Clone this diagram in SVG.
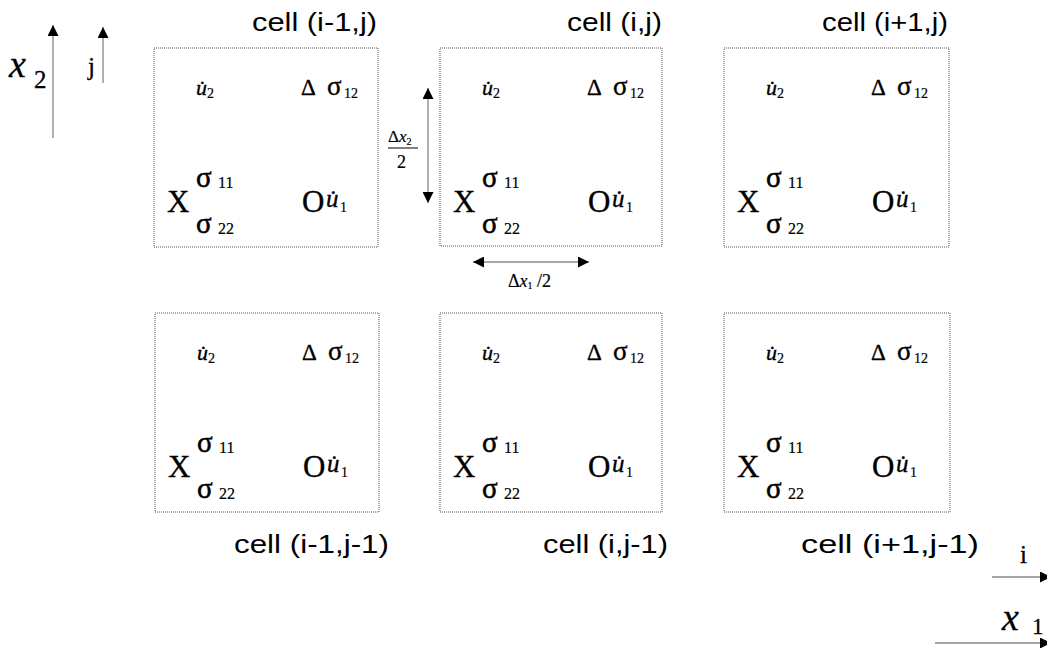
<svg xmlns="http://www.w3.org/2000/svg" width="1047" height="648" viewBox="0 0 1047 648">
<style>
.box{fill:none;stroke:#555;stroke-width:1;stroke-dasharray:1 1}
.lbl{font-family:"Liberation Sans",Arial,sans-serif;font-size:26px;fill:#000}
.t{font-family:"Liberation Serif","Times New Roman",serif;fill:#000;stroke:#000;stroke-width:0.35}
.mi{font-style:italic;font-size:22px}
.mu{font-style:italic;font-size:25px}
.sub{font-size:14px;stroke-width:0.2}
.sub2{font-size:16px;stroke-width:0.2}
.dl{font-size:23px}
.s1{font-size:27px}
.sg{font-size:29px;stroke-width:0.5}
.big{font-size:31px}
.ax{stroke:#888;stroke-width:1.3;fill:none}
</style>
<defs>
<marker id="ah" viewBox="0 0 12 12" refX="12" refY="6" markerWidth="12" markerHeight="11" markerUnits="userSpaceOnUse" orient="auto-start-reverse">
<path d="M0,0 L12,6 L0,12 z" fill="#000"/>
</marker>
</defs>

<g id="cell-i-1-j" transform="translate(154,48)">
<rect class="box" x="0" y="0" width="224" height="199"/>
<g class="t">
<text class="mi" x="42" y="47">u&#x307;</text><text class="sub" x="53" y="50">2</text>
<text class="dl" x="147" y="47">Δ</text><text class="s1" x="173" y="47">σ</text><text class="sub" x="190" y="50">12</text>
<text class="sg" x="42" y="139">σ</text><text class="sub2" x="64" y="140">11</text>
<text class="big" x="13" y="164">X</text>
<text class="sg" x="42" y="185">σ</text><text class="sub2" x="64" y="186">22</text>
<text class="big" x="148" y="164">O</text><text class="mu" x="172" y="159">u&#x307;</text><text class="sub" x="186" y="164">1</text>
</g>
</g>

<g id="cell-i-j" transform="translate(440,48)">
<rect class="box" x="0" y="0" width="222" height="198"/>
<g class="t">
<text class="mi" x="42" y="47">u&#x307;</text><text class="sub" x="53" y="50">2</text>
<text class="dl" x="147" y="47">Δ</text><text class="s1" x="173" y="47">σ</text><text class="sub" x="190" y="50">12</text>
<text class="sg" x="42" y="139">σ</text><text class="sub2" x="64" y="140">11</text>
<text class="big" x="13" y="164">X</text>
<text class="sg" x="42" y="185">σ</text><text class="sub2" x="64" y="186">22</text>
<text class="big" x="148" y="164">O</text><text class="mu" x="172" y="159">u&#x307;</text><text class="sub" x="186" y="164">1</text>
</g>
</g>

<g id="cell-i1-j" transform="translate(724,48)">
<rect class="box" x="0" y="0" width="225" height="199"/>
<g class="t">
<text class="mi" x="42" y="47">u&#x307;</text><text class="sub" x="53" y="50">2</text>
<text class="dl" x="147" y="47">Δ</text><text class="s1" x="173" y="47">σ</text><text class="sub" x="190" y="50">12</text>
<text class="sg" x="42" y="139">σ</text><text class="sub2" x="64" y="140">11</text>
<text class="big" x="13" y="164">X</text>
<text class="sg" x="42" y="185">σ</text><text class="sub2" x="64" y="186">22</text>
<text class="big" x="148" y="164">O</text><text class="mu" x="172" y="159">u&#x307;</text><text class="sub" x="186" y="164">1</text>
</g>
</g>

<g id="cell-i-1-j-1" transform="translate(155,313)">
<rect class="box" x="0" y="0" width="224" height="199"/>
<g class="t">
<text class="mi" x="42" y="47">u&#x307;</text><text class="sub" x="53" y="50">2</text>
<text class="dl" x="147" y="47">Δ</text><text class="s1" x="173" y="47">σ</text><text class="sub" x="190" y="50">12</text>
<text class="sg" x="42" y="139">σ</text><text class="sub2" x="64" y="140">11</text>
<text class="big" x="13" y="164">X</text>
<text class="sg" x="42" y="185">σ</text><text class="sub2" x="64" y="186">22</text>
<text class="big" x="148" y="164">O</text><text class="mu" x="172" y="159">u&#x307;</text><text class="sub" x="186" y="164">1</text>
</g>
</g>

<g id="cell-i-j-1" transform="translate(440,313)">
<rect class="box" x="0" y="0" width="222" height="199"/>
<g class="t">
<text class="mi" x="42" y="47">u&#x307;</text><text class="sub" x="53" y="50">2</text>
<text class="dl" x="147" y="47">Δ</text><text class="s1" x="173" y="47">σ</text><text class="sub" x="190" y="50">12</text>
<text class="sg" x="42" y="139">σ</text><text class="sub2" x="64" y="140">11</text>
<text class="big" x="13" y="164">X</text>
<text class="sg" x="42" y="185">σ</text><text class="sub2" x="64" y="186">22</text>
<text class="big" x="148" y="164">O</text><text class="mu" x="172" y="159">u&#x307;</text><text class="sub" x="186" y="164">1</text>
</g>
</g>

<g id="cell-i1-j-1" transform="translate(724,313)">
<rect class="box" x="0" y="0" width="226" height="199"/>
<g class="t">
<text class="mi" x="42" y="47">u&#x307;</text><text class="sub" x="53" y="50">2</text>
<text class="dl" x="147" y="47">Δ</text><text class="s1" x="173" y="47">σ</text><text class="sub" x="190" y="50">12</text>
<text class="sg" x="42" y="139">σ</text><text class="sub2" x="64" y="140">11</text>
<text class="big" x="13" y="164">X</text>
<text class="sg" x="42" y="185">σ</text><text class="sub2" x="64" y="186">22</text>
<text class="big" x="148" y="164">O</text><text class="mu" x="172" y="159">u&#x307;</text><text class="sub" x="186" y="164">1</text>
</g>
</g>

<g id="labels">
<text class="lbl" x="252" y="31" textLength="125" lengthAdjust="spacingAndGlyphs">cell (i-1,j)</text>
<text class="lbl" x="567" y="31" textLength="95" lengthAdjust="spacingAndGlyphs">cell (i,j)</text>
<text class="lbl" x="822" y="31" textLength="126" lengthAdjust="spacingAndGlyphs">cell (i+1,j)</text>
<text class="lbl" x="234" y="553" textLength="155" lengthAdjust="spacingAndGlyphs">cell (i-1,j-1)</text>
<text class="lbl" x="543" y="553" textLength="125" lengthAdjust="spacingAndGlyphs">cell (i,j-1)</text>
<text class="lbl" x="801" y="553" textLength="178" lengthAdjust="spacingAndGlyphs">cell (i+1,j-1)</text>
</g>

<g id="connectors">
<line class="ax" x1="53" y1="138" x2="53" y2="25" marker-end="url(#ah)"/>
<line class="ax" x1="103" y1="83" x2="103" y2="27" marker-end="url(#ah)"/>
<line class="ax" x1="992" y1="577" x2="1051" y2="577" marker-end="url(#ah)"/>
<line class="ax" x1="935" y1="643" x2="1051" y2="643" marker-end="url(#ah)"/>
<line class="ax" x1="428" y1="88" x2="428" y2="203" marker-start="url(#ah)" marker-end="url(#ah)"/>
<line class="ax" x1="473" y1="262" x2="589" y2="262" marker-start="url(#ah)" marker-end="url(#ah)"/>
</g>

<g id="axis-labels" class="t" style="stroke-width:0.3">
<text x="9" y="77" style="font-style:italic;font-size:38px">x</text>
<text x="34" y="88" style="font-size:25px">2</text>
<text x="88" y="75" style="font-size:25px">j</text>
<text x="1020" y="563" style="font-size:25px">i</text>
<text x="1002" y="630" style="font-style:italic;font-size:38px">x</text>
<text x="1032" y="634" style="font-size:23px">1</text>
</g>

<g id="dim-labels" class="t" style="stroke-width:0.2">
<text x="388" y="142" style="font-size:17px">Δ<tspan font-style="italic">x</tspan><tspan font-size="10px" dy="3">2</tspan></text>
<line x1="388" y1="148" x2="418" y2="148" stroke="#000" stroke-width="1"/>
<text x="397" y="168" style="font-size:18px">2</text>
<text x="508" y="287" style="font-size:18px">Δ<tspan font-style="italic">x</tspan><tspan font-size="10px" dy="2">1</tspan><tspan dy="-2"> /2</tspan></text>
</g>
</svg>
